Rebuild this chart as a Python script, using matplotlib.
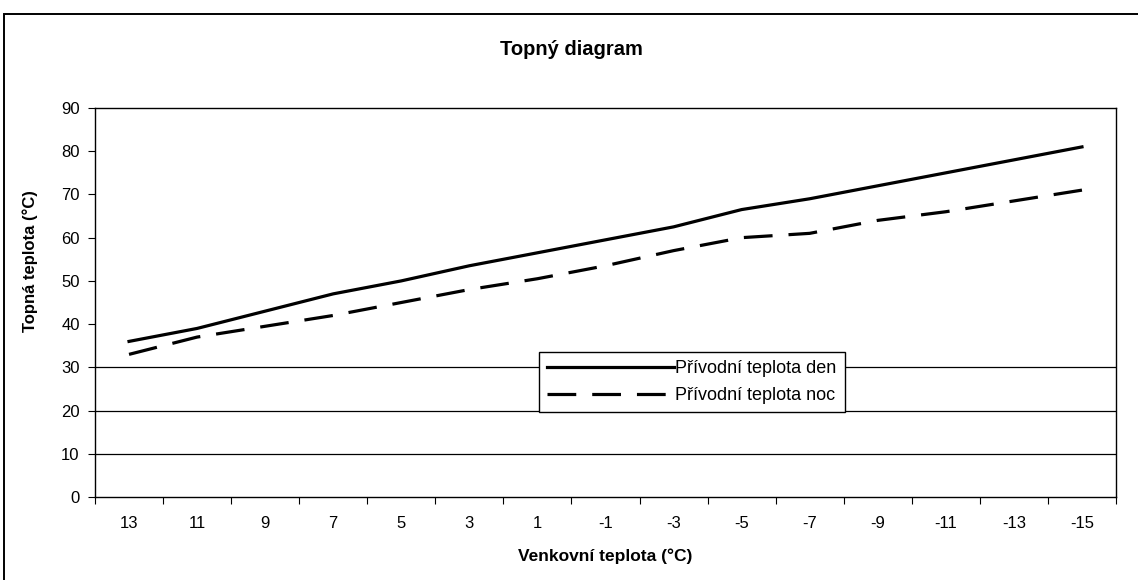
import numpy as np
import matplotlib
matplotlib.use("Agg")
import matplotlib.pyplot as plt
from matplotlib.patches import Rectangle

plt.rcParams['font.family'] = ['Liberation Sans', 'DejaVu Sans']

# outdoor temperature categories and supply temperatures
outdoor = ['13', '11', '9', '7', '5', '3', '1', '-1', '-3', '-5', '-7', '-9', '-11', '-13', '-15']
supply_day = [36, 39, 43, 47, 50, 53.5, 56.5, 59.5, 62.5, 66.5, 69, 72, 75, 78, 81]
supply_night = [33, 37, 39.5, 42, 45, 48, 50.5, 53.5, 57, 60, 61, 64, 66, 68.5, 71]

fig = plt.figure(figsize=(11.38, 5.80), dpi=100)
ax = fig.add_axes([95 / 1138, 83 / 580, 1021 / 1138, 389 / 580])

x = np.arange(len(outdoor))
ax.plot(x, supply_day, color='black', lw=2.3, label='Přívodní teplota den')
ax.plot(x, supply_night, color='black', lw=2.3, dashes=[9, 5], label='Přívodní teplota noc')

# only the lower gridlines survive in the scan
for g in [10, 20, 30]:
    ax.axhline(g, color='black', lw=0.9, zorder=0)

ax.set_ylim(0, 90)
ax.set_yticks(range(0, 91, 10))
ax.set_xlim(-0.5, len(outdoor) - 0.5)
ax.set_xticks(np.arange(-0.5, len(outdoor)), [''] * (len(outdoor) + 1))
ax.set_xticks(x, outdoor, minor=True)
ax.tick_params(axis='x', which='minor', length=0, pad=14, labelsize=12)
ax.tick_params(axis='x', which='major', length=5, direction='out')
ax.tick_params(axis='y', length=5, direction='out', labelsize=12, pad=6)
for s in ax.spines.values():
    s.set_linewidth(1.0)

ax.set_xlabel('Venkovní teplota (°C)', fontsize=12.5, fontweight='bold', labelpad=12)
ax.set_ylabel('Topná teplota (°C)', fontsize=12, fontweight='bold')
ax.yaxis.set_label_coords(-0.056, 0.607)
fig.text(0.502, 0.915, 'Topný diagram', ha='center', va='center', fontsize=14.5, fontweight='bold')

leg = ax.legend(loc='upper left', bbox_to_anchor=(0.435, 0.373), frameon=True, fancybox=False,
                fontsize=13, handlelength=7, borderpad=0.45, labelspacing=0.55,
                handletextpad=0.1, borderaxespad=0)
leg.get_frame().set_edgecolor('black')
leg.get_frame().set_linewidth(1.0)
leg.get_frame().set_alpha(1)

# outer chart border (right and bottom edges fall outside the scan)
fig.patches.append(Rectangle((4 / 1138, -0.05), 1.2, 0.05 + 1 - 14 / 580, transform=fig.transFigure,
                             fill=False, edgecolor='black', lw=1.4))

fig.savefig('out.png', dpi=100)
